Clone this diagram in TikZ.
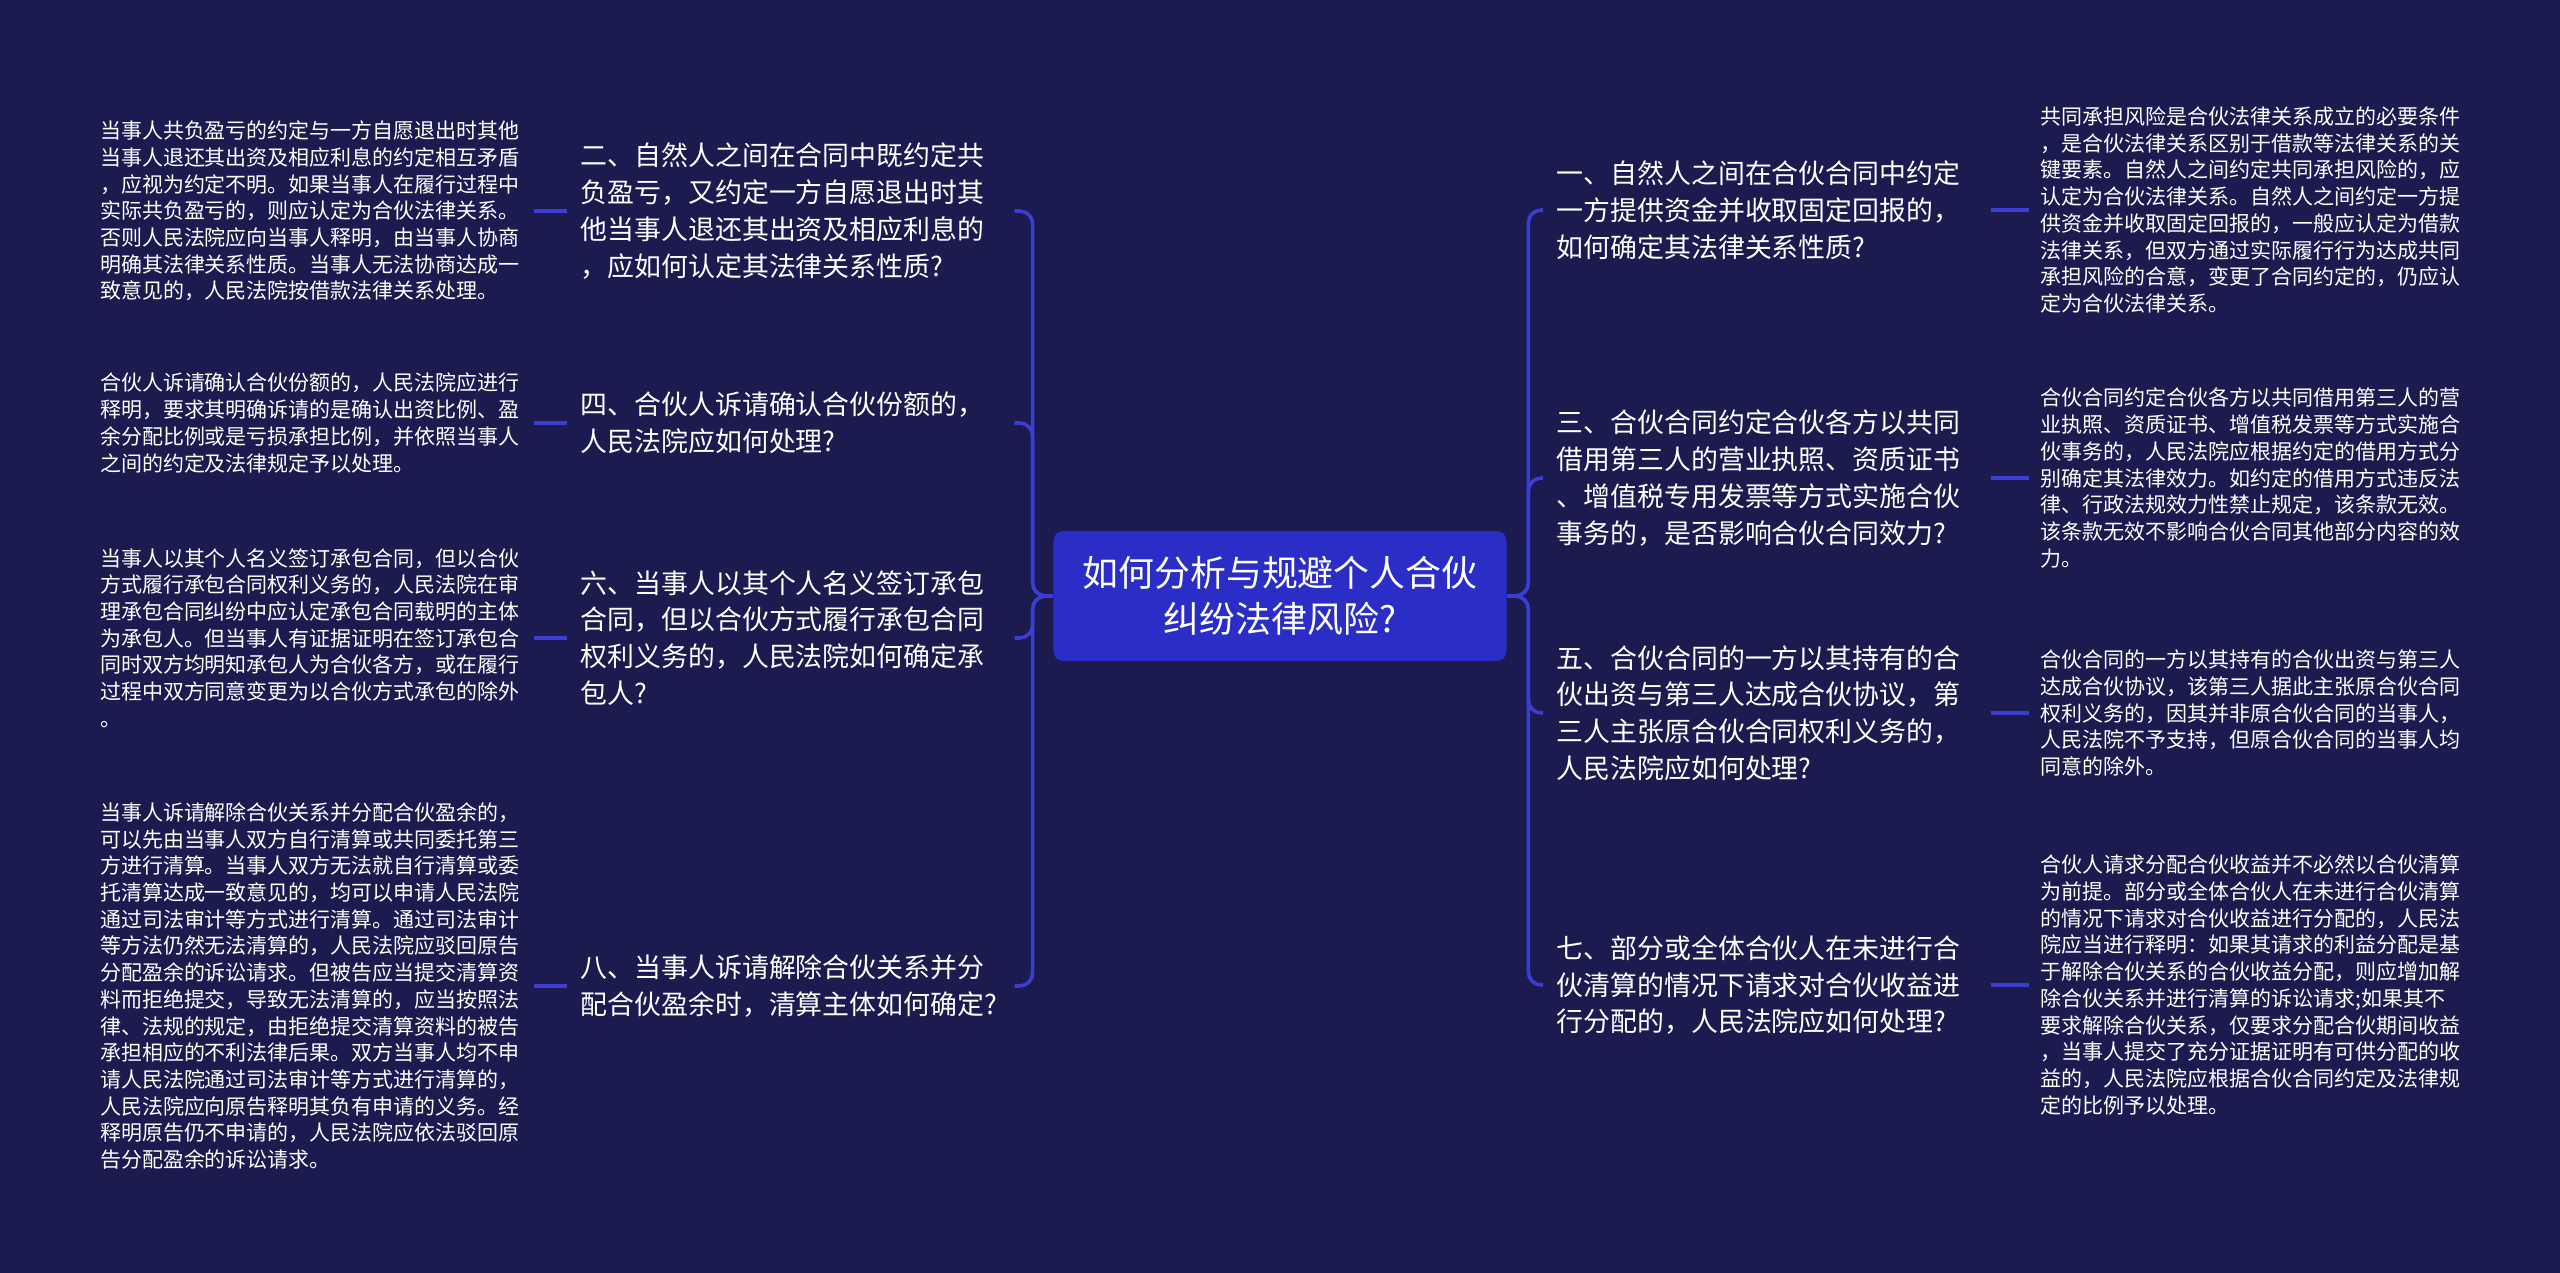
\documentclass[tikz,border=0pt]{standalone}
\usepackage{fontspec}
\newfontfamily\cjk{Noto Sans CJK SC}
\usepackage{tikz}
\usetikzlibrary{positioning}

\definecolor{bgnavy}{RGB}{27,27,80}
\definecolor{hubblue}{RGB}{43,46,198}
\definecolor{linkblue}{RGB}{58,62,210}

\begin{document}
\begin{tikzpicture}[
  x=0.01cm, y=-0.01cm,
  hub/.style={fill=hubblue, rounded corners=0.1cm, text=white, align=center,
    minimum width=4.53cm, minimum height=1.3cm,
    font=\cjk\fontsize{10.2pt}{13.1pt}\selectfont},
  topic/.style={text=white, align=left, text width=4.2cm, inner xsep=0.13cm,
    inner ysep=0.05cm, font=\cjk\fontsize{7.65pt}{10.44pt}\selectfont},
  detail/.style={text=white, align=left, text width=4.22cm, inner xsep=0.11cm,
    inner ysep=0.05cm, font=\cjk\fontsize{5.97pt}{7.6pt}\selectfont},
  link/.style={draw=linkblue, line width=1pt, rounded corners=0.13cm},
]
  % Background
  \fill[bgnavy] (0,0) rectangle (2560,1273);

  % Central topic
  \node[hub] (hub) at (1280,596) {如何分析与规避个人合伙\\纠纷法律风险?};

  % Questions on the left
  \node[topic, anchor=west] (q2) at (567,211) {二、自然人之间在合同中既约定共\\负盈亏，又约定一方自愿退出时其\\他当事人退还其出资及相应利息的\\，应如何认定其法律关系性质?};
  \node[topic, anchor=west] (q4) at (567,423) {四、合伙人诉请确认合伙份额的，\\人民法院应如何处理?};
  \node[topic, anchor=west] (q6) at (567,638) {六、当事人以其个人名义签订承包\\合同，但以合伙方式履行承包合同\\权利义务的，人民法院如何确定承\\包人?};
  \node[topic, anchor=west] (q8) at (567,986) {八、当事人诉请解除合伙关系并分\\配合伙盈余时，清算主体如何确定?};

  % Questions on the right
  \node[topic, anchor=west] (q1) at (1543,210) {一、自然人之间在合伙合同中约定\\一方提供资金并收取固定回报的，\\如何确定其法律关系性质?};
  \node[topic, anchor=west] (q3) at (1543,478) {三、合伙合同约定合伙各方以共同\\借用第三人的营业执照、资质证书\\、增值税专用发票等方式实施合伙\\事务的，是否影响合伙合同效力?};
  \node[topic, anchor=west] (q5) at (1543,713) {五、合伙合同的一方以其持有的合\\伙出资与第三人达成合伙协议，第\\三人主张原合伙合同权利义务的，\\人民法院应如何处理?};
  \node[topic, anchor=west] (q7) at (1543,985) {七、部分或全体合伙人在未进行合\\伙清算的情况下请求对合伙收益进\\行分配的，人民法院应如何处理?};

  % Answers on the left
  \node[detail, left=0.33cm of q2] (a2) {当事人共负盈亏的约定与一方自愿退出时其他\\当事人退还其出资及相应利息的约定相互矛盾\\，应视为约定不明。如果当事人在履行过程中\\实际共负盈亏的，则应认定为合伙法律关系。\\否则人民法院应向当事人释明，由当事人协商\\明确其法律关系性质。当事人无法协商达成一\\致意见的，人民法院按借款法律关系处理。};
  \node[detail, left=0.33cm of q4] (a4) {合伙人诉请确认合伙份额的，人民法院应进行\\释明，要求其明确诉请的是确认出资比例、盈\\余分配比例或是亏损承担比例，并依照当事人\\之间的约定及法律规定予以处理。};
  \node[detail, left=0.33cm of q6] (a6) {当事人以其个人名义签订承包合同，但以合伙\\方式履行承包合同权利义务的，人民法院在审\\理承包合同纠纷中应认定承包合同载明的主体\\为承包人。但当事人有证据证明在签订承包合\\同时双方均明知承包人为合伙各方，或在履行\\过程中双方同意变更为以合伙方式承包的除外\\。};
  \node[detail, left=0.33cm of q8] (a8) {当事人诉请解除合伙关系并分配合伙盈余的，\\可以先由当事人双方自行清算或共同委托第三\\方进行清算。当事人双方无法就自行清算或委\\托清算达成一致意见的，均可以申请人民法院\\通过司法审计等方式进行清算。通过司法审计\\等方法仍然无法清算的，人民法院应驳回原告\\分配盈余的诉讼请求。但被告应当提交清算资\\料而拒绝提交，导致无法清算的，应当按照法\\律、法规的规定，由拒绝提交清算资料的被告\\承担相应的不利法律后果。双方当事人均不申\\请人民法院通过司法审计等方式进行清算的，\\人民法院应向原告释明其负有申请的义务。经\\释明原告仍不申请的，人民法院应依法驳回原\\告分配盈余的诉讼请求。};

  % Answers on the right
  \node[detail, right=0.38cm of q1] (a1) {共同承担风险是合伙法律关系成立的必要条件\\，是合伙法律关系区别于借款等法律关系的关\\键要素。自然人之间约定共同承担风险的，应\\认定为合伙法律关系。自然人之间约定一方提\\供资金并收取固定回报的，一般应认定为借款\\法律关系，但双方通过实际履行行为达成共同\\承担风险的合意，变更了合同约定的，仍应认\\定为合伙法律关系。};
  \node[detail, right=0.38cm of q3] (a3) {合伙合同约定合伙各方以共同借用第三人的营\\业执照、资质证书、增值税发票等方式实施合\\伙事务的，人民法院应根据约定的借用方式分\\别确定其法律效力。如约定的借用方式违反法\\律、行政法规效力性禁止规定，该条款无效。\\该条款无效不影响合伙合同其他部分内容的效\\力。};
  \node[detail, right=0.38cm of q5] (a5) {合伙合同的一方以其持有的合伙出资与第三人\\达成合伙协议，该第三人据此主张原合伙合同\\权利义务的，因其并非原合伙合同的当事人，\\人民法院不予支持，但原合伙合同的当事人均\\同意的除外。};
  \node[detail, right=0.38cm of q7] (a7) {合伙人请求分配合伙收益并不必然以合伙清算\\为前提。部分或全体合伙人在未进行合伙清算\\的情况下请求对合伙收益进行分配的，人民法\\院应当进行释明：如果其请求的利益分配是基\\于解除合伙关系的合伙收益分配，则应增加解\\除合伙关系并进行清算的诉讼请求;如果其不\\要求解除合伙关系，仅要求分配合伙期间收益\\，当事人提交了充分证据证明有可供分配的收\\益的，人民法院应根据合伙合同约定及法律规\\定的比例予以处理。};

  % Links from the hub to the questions
  \foreach \q in {q2,q4,q6,q8} \draw[link] (hub.west) -- ++(-20,0) |- (\q.east);
  \foreach \q in {q1,q3,q5,q7} \draw[link] (hub.east) -- ++(21,0) |- (\q.west);

  % Links from the questions to the answers
  \foreach \n in {1,...,8} {
    \ifodd\n \draw[link] (q\n.east) -- (a\n.west);
    \else \draw[link] (q\n.west) -- (a\n.east); \fi
  }
\end{tikzpicture}
\end{document}
